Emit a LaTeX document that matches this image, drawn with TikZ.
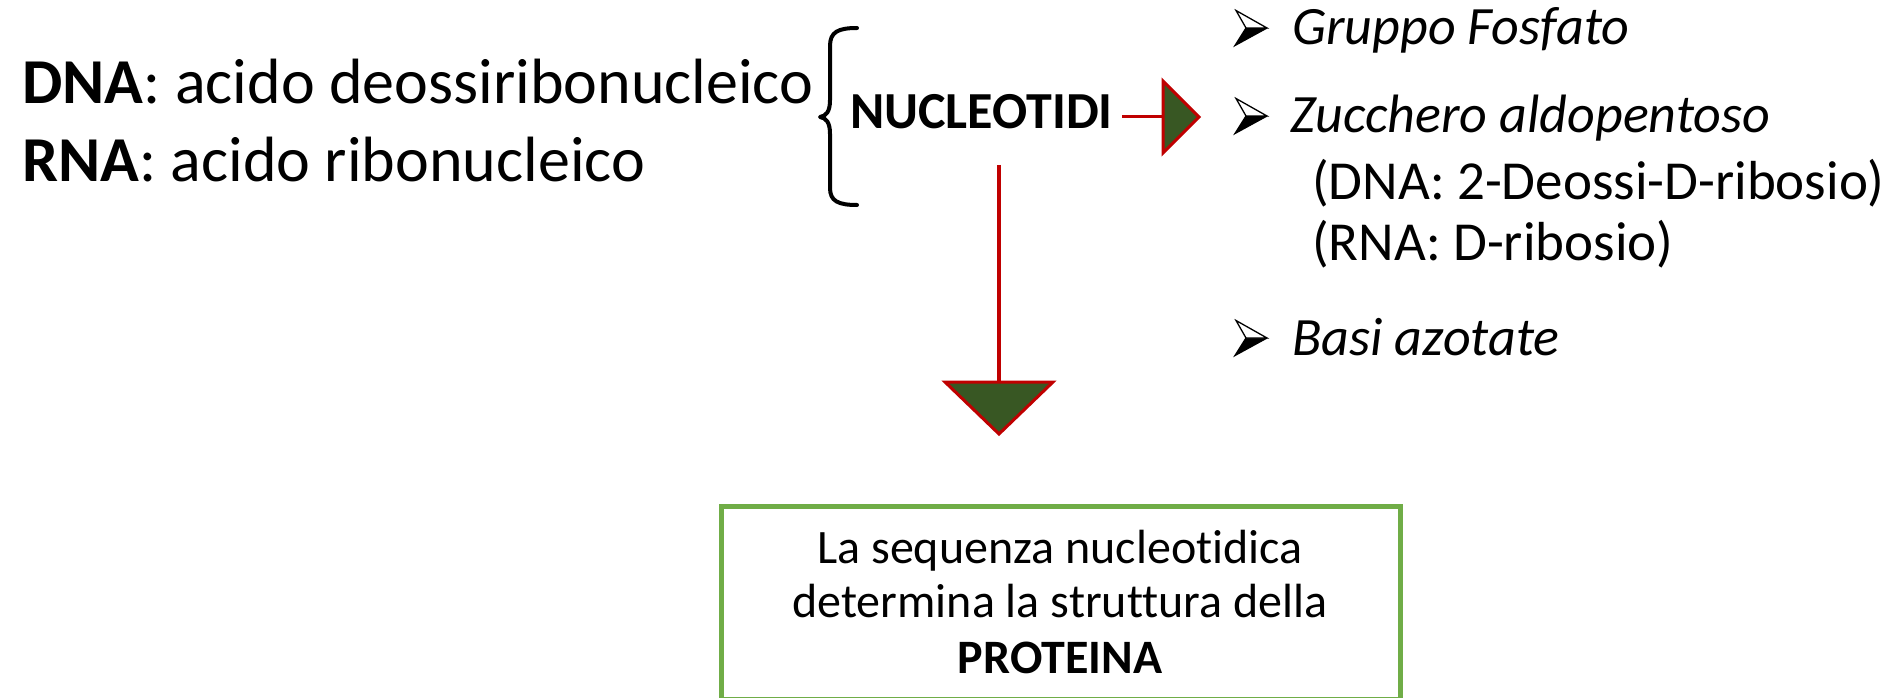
\documentclass[tikz,border=0pt]{standalone}
\usepackage{fontspec}
\setmainfont{Carlito}[Ligatures={NoCommon}]
\definecolor{darkred}{HTML}{C00000}
\definecolor{leafgreen}{HTML}{385723}
\definecolor{boxgreen}{HTML}{70AD47}
\begin{document}
\begin{tikzpicture}[x=1pt,y=-1pt,
  txt/.style={anchor=base west,inner sep=0pt},
  bigtxt/.style={txt,font=\fontsize{64}{77}\selectfont},
  listtxt/.style={txt,font=\fontsize{55}{60}\selectfont},
  listit/.style={txt,font=\fontsize{54}{60}\selectfont\itshape},
  boxtxt/.style={anchor=base,inner sep=0pt,font=\fontsize{48}{54}\selectfont},
  conn/.style={draw=darkred,line width=3.5pt},
  headtri/.style={draw=darkred,line width=3pt,fill=leafgreen,line join=miter},
  arrowbullet/.pic={
    \fill[black] (10,0) -- (31,0) -- (-1,17.5) -- cycle;
    \draw[black,line width=1.3pt,fill=white,line join=miter] (0,-17.5) -- (31,0) -- (10,0) -- cycle;
    \draw[black,line width=1.3pt,line join=miter] (10,0) -- (-1,17.5) -- (31,0);
  }]
\useasboundingbox (0,0) rectangle (1893,698);
\fill[white] (0,0) rectangle (1893,698);
\clip (0,0) rectangle (1893,698);

% left texts
\node[bigtxt] (dna) at (22,104) {\textbf{DNA}: acido deossiribonucleico};
\node[bigtxt] (rna) at (22,181) {\textbf{RNA}: acido ribonucleico};

% brace
\draw[black,line width=4pt,line cap=round,line join=round]
  (857,28) .. controls (838,28) and (830,32) .. (830,46)
  -- (830,100) .. controls (830,112) and (826,116) .. (820,117)
  .. controls (826,118) and (830,122) .. (830,134)
  -- (830,188) .. controls (830,201) and (838,205) .. (857,205);

% NUCLEOTIDI
\node[txt,font=\fontsize{52}{60}\selectfont\bfseries] (nuc) at (850,129) {NUCLEOTIDI};

% horizontal connector and arrowhead
\coordinate (hstart) at (1122,117);
\coordinate (hend) at (1163,117);
\draw[conn,line width=3pt] (hstart) -- (hend);
\draw[headtri] (1163,81) -- (1199,117) -- (1163,153) -- cycle;

% vertical connector and arrowhead
\coordinate (vstart) at (999,165);
\coordinate (vend) at (999,382);
\draw[conn,line width=4pt] (vstart) -- (vend);
\draw[headtri] (945,382) -- (1053,382) -- (999,434) -- cycle;

% list
\pic at (1236,28) {arrowbullet};
\node[listit] (l1) at (1292,45) {Gruppo Fosfato};
\pic at (1236,116) {arrowbullet};
\node[listit] (l2) at (1290,133) {Zucchero aldopentoso};
\node[listtxt] (l3) at (1312,199) {(DNA: 2-Deossi-D-ribosio)};
\node[listtxt] (l4) at (1312,260) {(RNA: D-ribosio)};
\pic at (1236,338) {arrowbullet};
\node[listit] (l5) at (1292,355) {Basi azotate};

% box
\draw[boxgreen,line width=5pt] (721,699) rectangle (1400,506);
\node[boxtxt] (b1) at (1060,563) {La sequenza nucleotidica};
\node[boxtxt] (b2) at (1060,617) {determina la struttura della};
\node[boxtxt,font=\fontsize{48}{54}\selectfont\bfseries] (b3) at (1060,673) {PROTEINA};
\end{tikzpicture}
\end{document}
